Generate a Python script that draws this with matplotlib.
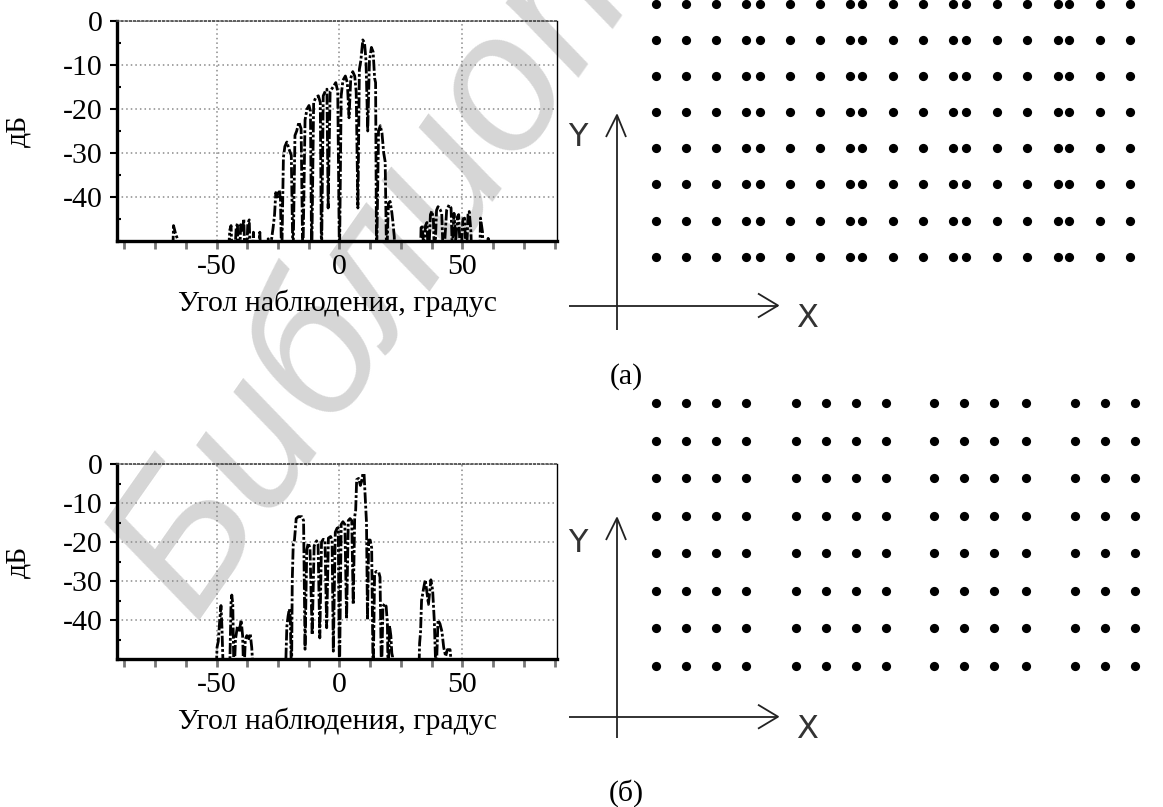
import matplotlib
matplotlib.use('Agg')
import matplotlib.pyplot as plt
from matplotlib.ticker import MultipleLocator

plt.rcParams['font.family'] = ['Liberation Serif', 'DejaVu Serif']

# диаграмма направленности (а), угол в градусах / уровень в дБ
angle_a = [-90, -68.2, -67.5, -66.6, -65.9, -65.3,
           -46.0, -44.6, -44.1, -43.3, -42.0, -41.5, -40.9, -40.2, -39.6, -38.9,
           -38.2, -37.3, -36.7, -36.0, -35.0, -34.2, -32.4, -31.6, -29.6, -29.0,
           -28.3, -27.6, -27.0, -26.4, -25.9, -25.2, -24.5, -24.0, -23.5,
           -22.8, -22.2, -21.4, -20.6, -19.6, -18.9, -18.1, -17.4, -16.5, -15.6,
           -14.9, -14.0, -13.2, -12.4, -11.8, -11.3, -10.5, -9.7, -8.6, -7.8,
           -7.3, -6.6, -5.8, -5.1, -4.6, -3.8, -2.6, -1.5, -0.7, 0.0,
           0.7, 1.4, 2.4, 3.2, 3.9, 4.6, 5.4, 6.2, 6.8, 7.5,
           8.1, 8.7, 9.5, 10.2, 10.8, 11.5, 12.2, 13.0, 13.7, 14.3, 14.7, 15.1,
           15.9, 16.6, 17.3, 18.0, 18.6, 19.2, 19.9, 20.6, 21.3, 21.8, 22.3, 22.7,
           32.7, 33.2, 33.7, 34.3, 35.0, 35.6, 36.2, 37.0, 37.6, 38.2, 38.7,
           39.5, 40.1, 40.9, 41.6, 42.3, 43.6, 44.6, 45.4, 45.9, 46.6, 47.3,
           48.0, 48.5, 49.3, 50.2, 50.9, 51.6, 52.3, 52.8, 53.5, 54.0,
           56.8, 57.4, 58.2, 58.8, 60.2, 60.5, 60.9, 90]
db_a = [-60, -60, -46.5, -48.5, -49.5, -60,
        -60, -47.5, -46.5, -60, -47, -46, -60, -46.3, -48, -45,
        -60, -46, -45.2, -60, -48, -60, -48, -60, -60, -49.5,
        -60, -49.5, -47, -44, -39, -40, -38.4, -40.5, -55,
        -31, -28.5, -27.5, -29, -30.5, -55, -26, -25, -23, -24.5,
        -55, -22.5, -20, -19.2, -20.5, -55, -18.5, -17.5, -17, -18.5,
        -55, -17, -16, -15.5, -42.5, -16, -15, -14, -16, -55,
        -17, -13.5, -12.5, -14, -22, -13, -11.5, -12.5, -16, -42.5,
        -11, -9, -4.3, -5, -9, -25, -9, -6, -7, -13, -14, -55,
        -25, -23.8, -25.5, -30, -32, -55, -41.5, -41, -43.5, -46, -49, -60,
        -60, -47, -46.4, -52, -46.5, -45.8, -55, -44, -43.2, -45, -55,
        -43, -42.2, -42.8, -43.7, -55, -43, -41.8, -42.5, -52, -43.7, -50,
        -44.5, -44, -55, -45, -44.8, -55, -44, -43.3, -48, -60,
        -60, -44.8, -48, -60, -60, -49.4, -60, -60]

# диаграмма направленности (б)
angle_b = [-90, -50.5, -49.8, -49.3, -48.7, -48.2, -47.8, -47.2,
           -44.7, -44.4, -44.1, -43.8, -43.4, -42.9, -42.3, -41.5, -40.8, -40.0,
           -39.4, -38.9, -38.3, -37.7, -36.9, -36.3, -35.7, -35.2, -34.6,
           -22.2, -21.7, -21.4, -20.9, -20.4, -20.0, -19.5, -19.2, -18.8, -18.3,
           -17.6, -16.7, -15.3, -14.6, -14.0, -13.3, -12.7, -12.0, -11.1,
           -10.3, -9.3, -8.7, -8.0, -7.3, -6.6, -5.9, -5.2, -4.5, -3.6, -3.0,
           -2.5, -1.7, -1.0, -0.5, 0.0, 0.7, 1.4, 2.2, 2.9, 3.6, 4.3, 5.0, 5.6,
           6.2, 6.6, 7.0, 7.8, 8.5, 9.0, 9.5, 10.0, 10.5, 11.0, 11.4, 11.9,
           12.5, 13.1, 13.7, 14.3, 15.1, 16.0, 16.5, 17.1, 17.7, 18.4, 19.0,
           19.5, 19.8, 20.4, 20.9, 21.3, 21.6, 22.0,
           32.1, 32.6, 33.0, 33.4, 34.2, 34.9, 35.6, 36.2, 37.2, 37.9, 38.6,
           39.3, 40.1, 40.9, 41.7, 42.4, 43.2, 43.9, 45.0, 45.6, 46.0, 90]
db_b = [-60, -60, -47, -45.5, -40, -36.3, -42, -55,
        -55, -45, -35.5, -33.6, -36, -55, -45, -41.5, -43, -40,
        -44, -55, -45, -44, -44.8, -43.5, -47, -52, -60,
        -60, -48, -41.7, -39, -37.2, -39.5, -55, -29.7, -20.5, -19.5,
        -14, -13.5, -13.5, -14.5, -47.5, -22, -20.3, -21.5, -43.8,
        -21, -19.7, -20.5, -44.6, -20, -19.3, -19.5, -42, -19, -18.6, -19.5,
        -48, -17.5, -16.5, -16.3, -55, -15.5, -14.8, -15.5, -39.7, -14.5, -14, -14.5, -36,
        -13.5, -11.8, -4, -3.7, -5.5, -4.5, -2.6, -2.4, -8.8, -15, -40, -19.5,
        -19.5, -21.5, -55, -28, -27.5, -27.8, -29, -55, -36.5, -35.8, -36.5,
        -41, -55, -41.5, -44, -48.5, -49.4, -60,
        -60, -46, -43, -35, -32, -29.7, -33, -36, -29.7, -32.3, -40.4,
        -55, -40, -41, -43, -47, -49.3, -47.6, -47.6, -52, -60, -60]

x_ticks = [-50, 0, 50]
y_ticks = [0, -10, -20, -30, -40]

# положения излучателей (в шагах решётки)
cols_a = [0, 1, 2, 3, 3.46, 4.46, 5.47, 6.47, 6.88, 7.9, 8.9, 9.9,
          10.34, 11.35, 12.36, 13.4, 13.77, 14.8, 15.8]
cols_b = [0, 1, 2, 3, 4.67, 5.67, 6.67, 7.68, 9.25, 10.26, 11.28, 12.33,
          13.97, 14.97, 15.98]
rows = [0, 1, 2, 3, 4, 5, 6, 7]

W, H = 1163, 807
FS = 21.5
fig = plt.figure(figsize=(W / 100, H / 100), dpi=100)

# фон с водяным знаком
bg = fig.add_axes([0, 0, 1, 1], zorder=-5)
bg.set_xlim(0, W)
bg.set_ylim(H, 0)
bg.axis('off')
bg.text(193, 621, 'Библиотека', family=['Liberation Sans', 'DejaVu Sans'],
        style='italic', fontsize=140, color='#d6d6d6', rotation=55,
        rotation_mode='anchor', ha='left', va='baseline')


def pattern(rect, ang, db):
    ax = fig.add_axes(rect)
    ax.set_facecolor('none')
    ax.plot(ang, db, color='black', lw=2.0, ls=(0, (4, 0.8, 1, 0.8)))
    ax.set_xlim(-90.5, 88.5)
    ax.set_ylim(-50, 0)
    ax.set_xticks(x_ticks)
    ax.set_xticklabels([str(t) for t in x_ticks])
    ax.xaxis.set_minor_locator(MultipleLocator(12.5))
    ax.set_yticks(y_ticks)
    ax.set_yticklabels([str(t) for t in y_ticks])
    ax.yaxis.set_minor_locator(MultipleLocator(5))
    ax.grid(True, which='major', color='#8a8a8a', ls=(0, (1, 2)), lw=1.1)
    ax.tick_params(axis='x', which='both', direction='out', length=6, width=2,
                   color='#777777', labelsize=FS, pad=3)
    ax.tick_params(axis='y', which='major', direction='out', length=5, width=1.5,
                   labelsize=FS, pad=5)
    ax.tick_params(axis='y', which='minor', direction='in', length=3, width=1.5)
    ax.spines['left'].set_linewidth(2.4)
    ax.spines['bottom'].set_linewidth(2.4)
    ax.spines['right'].set_linewidth(1.0)
    ax.spines['top'].set_linestyle((0, (1, 1.5)))
    ax.spines['top'].set_linewidth(1.2)
    ax.spines['top'].set_color('#444444')
    ax.set_xlabel('Угол наблюдения, градус', fontsize=FS)
    ax.xaxis.set_label_coords(0.5, -0.22 * 220 / (rect[3] * H))
    ax.set_ylabel('дБ', fontsize=FS)
    ax.yaxis.set_label_coords(-0.195, 0.5)
    return ax


pattern([117 / W, 1 - 241 / H, 440 / W, 220 / H], angle_a, db_a)
pattern([117 / W, 1 - 659 / H, 440 / W, 195 / H], angle_b, db_b)


def array(top_px, bottom_px, row0_px, row_step, cols):
    ax = fig.add_axes([600 / W, 1 - bottom_px / H, (W - 600) / W, (bottom_px - top_px) / H])
    ax.set_facecolor('none')
    xs = [c for r in rows for c in cols]
    ys = [r for r in rows for c in cols]
    ax.scatter(xs, ys, s=44, color='black', marker='o', linewidths=0)
    ax.set_xlim((600 - 656) / 30, (W - 656) / 30)
    ax.set_ylim((bottom_px - row0_px) / row_step, (top_px - row0_px) / row_step)
    ax.axis('off')


array(0, 300, 4, 36.1, cols_a)
array(380, 700, 403.3, 37.5, cols_b)

# оси координат и подписи
fg = fig.add_axes([0, 0, 1, 1], zorder=5)
fg.set_xlim(0, W)
fg.set_ylim(H, 0)
fg.axis('off')
fg.patch.set_alpha(0)


def frame(x0, y0, top, bottom, right, ylab_y):
    kw = dict(color='#222222', lw=1.3, solid_capstyle='butt')
    fg.plot([x0, x0], [top, bottom], **kw)
    fg.plot([x0 - 48, right], [y0, y0], **kw)
    fg.plot([x0 - 11, x0, x0 + 9], [top + 22, top, top + 22], **kw)
    fg.plot([right - 20, right, right - 20], [y0 - 12, y0, y0 + 12], **kw)
    fg.text(x0 - 39, ylab_y, 'Y', family=['Liberation Sans Narrow', 'DejaVu Sans'],
            fontsize=23, color='#333333', ha='center', va='center')
    fg.text(right + 29, y0 + 13, 'X', family=['Liberation Sans Narrow', 'DejaVu Sans'],
            fontsize=23, color='#333333', ha='center', va='center')


frame(617, 305.5, 115, 330, 778, 137)
frame(617, 716.7, 518, 738, 778, 543)

fg.text(626, 377, '(а)', fontsize=FS, ha='center', va='center')
fg.text(626, 793, '(б)', fontsize=FS, ha='center', va='center')

fig.savefig('out.png', dpi=100)
